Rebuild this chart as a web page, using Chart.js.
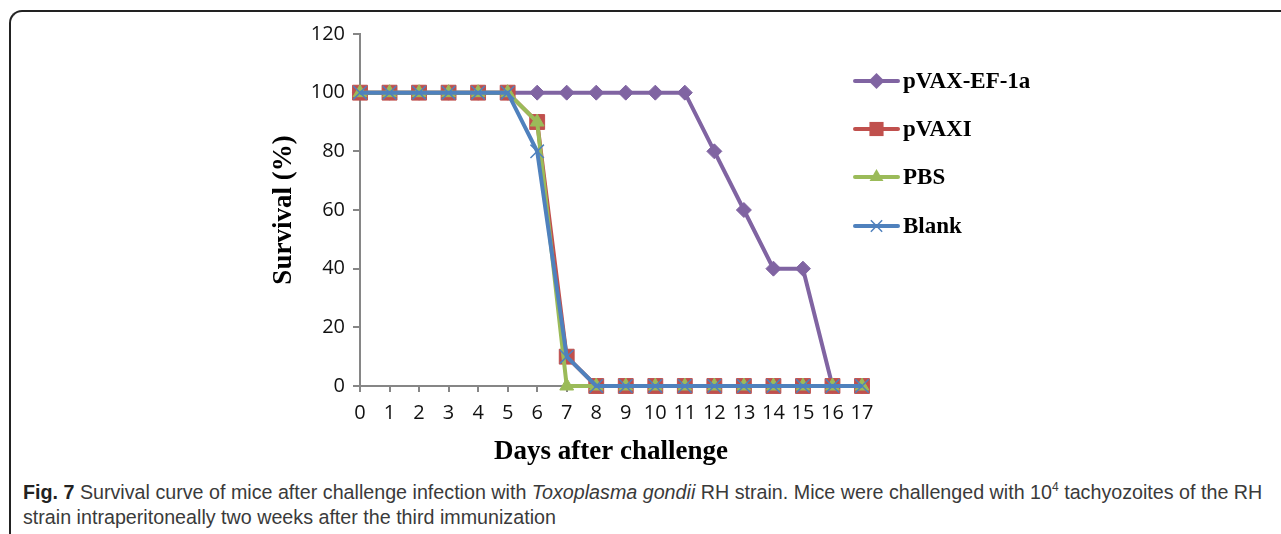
<!DOCTYPE html>
<html>
<head>
<meta charset="utf-8">
<script src="https://cdn.jsdelivr.net/npm/chart.js@4/dist/chart.umd.min.js"></script>
<style>
  body { margin: 0; background: #fff; width: 1281px; height: 534px; overflow: hidden; position: relative; }
  #frame { position: absolute; left: 9px; top: 10px; width: 1400px; height: 600px;
           border-top: 2px solid #222; border-left: 2px solid #222; border-top-left-radius: 13px; }
  #myChart { position: absolute; left: 0; top: 0; }
  #caption { position: absolute; left: 23px; top: 480px; width: 1255px;
             font-family: "Liberation Sans Narrow", "Liberation Sans", sans-serif;
             font-size: 19.7px; line-height: 25px; color: #3a3a3a; white-space: nowrap; }
  #caption b { color: #222; }
</style>
</head>
<body>
<div id="frame"></div>
<canvas id="myChart" width="1281" height="470"></canvas>
<div id="caption"><b>Fig. 7</b> Survival curve of mice after challenge infection with <i>Toxoplasma gondii</i> RH strain. Mice were challenged with 10<sup style="font-size:12px;line-height:0">4</sup> tachyozoites of the RH<br>strain intraperitoneally two weeks after the third immunization</div>
<script>
const days = [0, 1, 2, 3, 4, 5, 6, 7, 8, 9, 10, 11, 12, 13, 14, 15, 16, 17];
const pvaxEf1a = [100, 100, 100, 100, 100, 100, 100, 100, 100, 100, 100, 100, 80, 60, 40, 40, 0, 0];
const pvaxI = [100, 100, 100, 100, 100, 100, 90, 10, 0, 0, 0, 0, 0, 0, 0, 0, 0, 0];
const pbs = [100, 100, 100, 100, 100, 100, 90, 0, 0, 0, 0, 0, 0, 0, 0, 0, 0, 0];
const blank = [100, 100, 100, 100, 100, 100, 80, 10, 0, 0, 0, 0, 0, 0, 0, 0, 0, 0];
const seriesNames = ['pVAX-EF-1a', 'pVAXI', 'PBS', 'Blank'];

const toPoints = (arr) => arr.map((v, i) => ({ x: days[i], y: v }));

function makeSet(name, values, color, style, radius, order) {
    return {
        label: name,
        data: toPoints(values),
        borderColor: color,
        backgroundColor: color,
        borderWidth: 4,
        pointStyle: style,
        pointRadius: radius,
        pointHoverRadius: radius,
        pointBackgroundColor: color,
        pointBorderColor: color,
        pointBorderWidth: style === 'crossRot' ? 1.5 : 1,
        tension: 0,
        clip: false,
        order: order
    };
}

const datasets = [
    makeSet(seriesNames[0], pvaxEf1a, '#8064A2', 'rectRot', 7.5, 3),
    makeSet(seriesNames[1], pvaxI, '#C0504D', 'rect', 10.5, 2),
    makeSet(seriesNames[2], pbs, '#9BBB59', 'triangle', 8, 1),
    makeSet(seriesNames[3], blank, '#4F81BD', 'crossRot', 9.5, 0)
];

// draws a legend marker like the ones on the lines
function drawMarker(ctx, style, x, y, r, color) {
    ctx.save();
    ctx.fillStyle = color;
    ctx.strokeStyle = color;
    ctx.beginPath();
    if (style === 'rectRot') {
        ctx.moveTo(x, y - r); ctx.lineTo(x + r, y); ctx.lineTo(x, y + r); ctx.lineTo(x - r, y); ctx.closePath(); ctx.fill();
    } else if (style === 'rect') {
        const s = r * Math.SQRT1_2;
        ctx.fillRect(x - s, y - s, 2 * s, 2 * s);
    } else if (style === 'triangle') {
        ctx.moveTo(x, y - r); ctx.lineTo(x + r * 0.866, y + r / 2); ctx.lineTo(x - r * 0.866, y + r / 2); ctx.closePath(); ctx.fill();
    } else {
        const o = r * Math.SQRT1_2;
        ctx.lineWidth = 1.5;
        ctx.moveTo(x - o, y - o); ctx.lineTo(x + o, y + o);
        ctx.moveTo(x + o, y - o); ctx.lineTo(x - o, y + o); ctx.stroke();
    }
    ctx.restore();
}

const sideLegend = {
    id: 'sideLegend',
    afterDraw(chart) {
        const ctx = chart.ctx;
        const rows = [81, 129, 177, 226];
        chart.data.datasets.forEach((ds, i) => {
            const y = rows[i];
            ctx.save();
            ctx.strokeStyle = ds.borderColor;
            ctx.lineWidth = 4;
            ctx.lineCap = 'round';
            ctx.beginPath();
            ctx.moveTo(855, y); ctx.lineTo(898, y);
            ctx.stroke();
            ctx.restore();
            drawMarker(ctx, ds.pointStyle, 876.5, y, ds.pointStyle === 'rect' ? 10 : 8, ds.borderColor);
            ctx.save();
            ctx.fillStyle = '#000';
            ctx.font = 'bold 23px "Liberation Serif", "Times New Roman", serif';
            ctx.textBaseline = 'middle';
            ctx.fillText(ds.label, 903, y + 1);
            ctx.restore();
        });
    }
};

const tickFont = { family: '"Open Sans", sans-serif', size: 20 };
const titleFont = { family: '"Liberation Serif", "Times New Roman", serif', size: 27, weight: 'bold' };

const config = {
    type: 'line',
    data: { datasets: datasets },
    options: {
        responsive: false,
        animation: false,
        devicePixelRatio: 1,
        layout: { padding: { left: 0, top: 34, right: 419, bottom: 0 } },
        plugins: { legend: { display: false }, tooltip: { enabled: false } },
        scales: {
            x: {
                type: 'linear',
                min: 0, max: 17,
                afterFit: (scale) => { scale.height = 84; },
                ticks: { stepSize: 1, color: '#111', font: tickFont, padding: 9 },
                grid: { drawOnChartArea: false, tickLength: 6, color: '#868686', lineWidth: 2 },
                border: { color: '#868686', width: 2 },
                title: { display: true, text: 'Days after challenge', color: '#000', font: titleFont, padding: { top: 0, bottom: 2 } }
            },
            y: {
                min: 0, max: 120,
                afterFit: (scale) => { scale.width = 360; },
                ticks: { stepSize: 20, color: '#111', font: tickFont, padding: 8 },
                grid: { drawOnChartArea: false, tickLength: 7, color: '#868686', lineWidth: 2 },
                border: { color: '#868686', width: 2 },
                title: { display: true, text: 'Survival (%)', color: '#000', font: titleFont, padding: { top: 268, bottom: 0 } }
            }
        }
    },
    plugins: [sideLegend]
};

const myChart = new Chart(document.getElementById('myChart'), config);
</script>
</body>
</html>
